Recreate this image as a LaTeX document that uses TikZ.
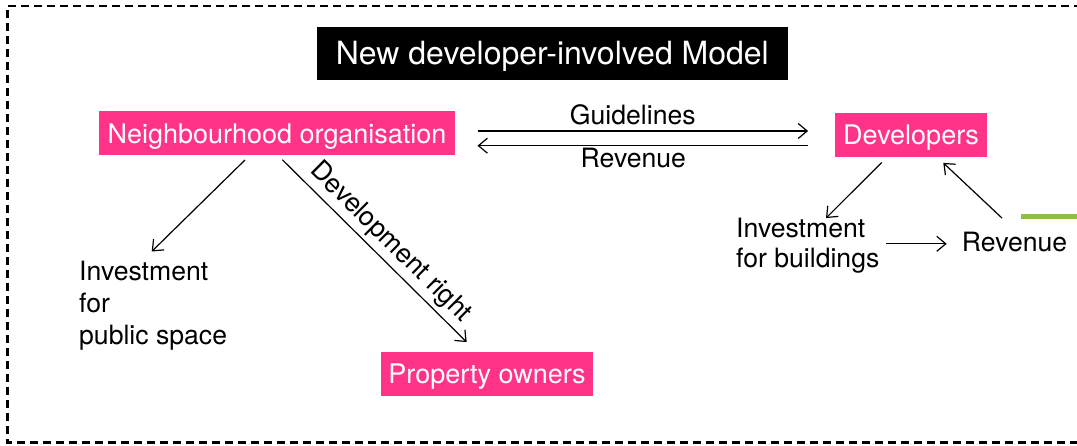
\documentclass[tikz,border=0pt]{standalone}
\usepackage{fontspec}
\setmainfont{TeX Gyre Heros}
\usetikzlibrary{arrows.meta,calc}
\definecolor{hotpink}{HTML}{FF3388}
\definecolor{leafgreen}{HTML}{8DBF47}
\tikzset{
  pinkbox/.style={fill=hotpink, text=white, inner sep=0pt, minimum height=44pt,
    text height=19.3pt, text depth=0pt, font=\fontsize{27}{30}\selectfont},
  lbl/.style={inner sep=0pt, font=\fontsize{26.6}{32}\selectfont, align=left},
  arrlbl/.style={inner sep=0pt, font=\fontsize{26.6}{30}\selectfont},
  arr/.style={line width=1.2pt, -{Straight Barb[length=9pt,width=15pt,line width=1.2pt]}},
  border/.style={line width=2.8pt, dash pattern=on 8pt off 5pt}
}
\begin{document}
\begin{tikzpicture}[x=1pt,y=-1pt]
\useasboundingbox (0,0) rectangle (1077,446);
\draw[border] (1095,6) -- (7.3,6) -- (7.3,442.5) -- (1095,442.5);
\draw[leafgreen, line width=4.5pt] (1021,216.5) -- (1090,216.5);

\node[fill=black, text=white, inner sep=0pt, minimum width=471.3pt, minimum height=53.3pt,
  text height=23pt, text depth=0pt, font=\fontsize{32}{36}\selectfont] (title) at (552.3,53.3) {New developer-involved Model};

\node[pinkbox, minimum width=356pt] (neigh) at (277,133.5) {Neighbourhood organisation};
\node[pinkbox, minimum width=152pt] (dev) at (911,135) {Developers};
\node[pinkbox, minimum width=212pt] (prop) at (487,373.7) {Property owners};

\node[lbl, anchor=north west] (pub) at (79,260.5) {Investment\\for\\public space};
\node[lbl, anchor=north west, font=\fontsize{26.6}{30}\selectfont] (bld) at (736,217.9) {Investment\\for buildings};
\node[lbl, anchor=base west] (rev) at (961.7,251.7) {Revenue};

\draw[arr] ($(neigh.east)+(22.3,-2.5)$) -- ($(dev.west)+(-26.7,-4)$)
  node[arrlbl, midway, anchor=base, xshift=-10pt, yshift=6.7pt] (gl) {Guidelines};
\draw[arr] ($(dev.west)+(-26.7,10.7)$) -- ($(neigh.east)+(22.3,12.2)$)
  node[arrlbl, midway, anchor=base, xshift=-9.5pt, yshift=-22pt] (rl) {Revenue};
\draw[arr] ($(neigh.south)+(-32,4.3)$) -- ($(pub.north west)+(72.7,-9)$);
\draw[arr] ($(neigh.south)+(5.3,4)$) -- ($(prop.north)+(-20.3,-9.4)$)
  node[arrlbl, pos=0.52, sloped, above, inner sep=4pt] (dr) {Development right};
\draw[arr] ($(dev.south)+(-29.3,5.3)$) -- ($(bld.north west)+(90,0.2)$);
\draw[arr] ($(bld.east |- rev.west)+(6.3,1.6)$) -- ($(rev.west)+(-15,1.6)$);
\draw[arr] ($(rev.north)+(-12.5,-14)$) -- ($(dev.south)+(32.3,5.7)$);
\end{tikzpicture}
\end{document}
